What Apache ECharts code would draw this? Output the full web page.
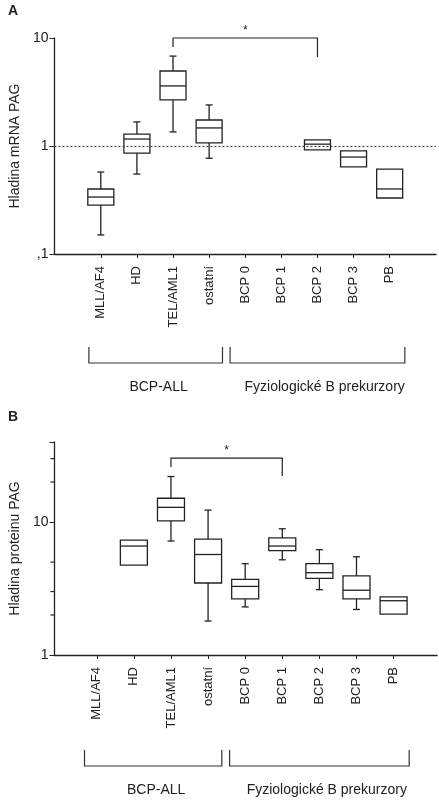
<!DOCTYPE html>
<html><head><meta charset="utf-8">
<script src="https://cdn.jsdelivr.net/npm/echarts@6/dist/echarts.min.js"></script>
<style>html,body{margin:0;padding:0;background:#fff}#c{width:439px;height:800px}</style>
</head><body><div id="c"></div>
<script>
const categories = ['MLL/AF4','HD','TEL/AML1','ostatní','BCP 0','BCP 1','BCP 2','BCP 3','PB'];
// [low, q1, median, q3, high]; null = not drawn
const boxesA = [
  [0.15,0.284,0.337,0.40,0.574],
  [0.55,0.86,1.16,1.29,1.67],
  [1.35,2.67,3.6,4.95,6.8],
  [0.77,1.07,1.47,1.74,2.4],
  null,
  null,
  [null,0.92,1.04,1.14,null],
  [null,0.64,0.79,0.9,null],
  [null,0.33,0.40,0.61,null]
];
const boxesB = [
  null,
  [null,4.75,6.6,7.3,null],
  [7.2,10.2,12.9,15.1,22],
  [1.8,3.48,5.7,7.45,12.3],
  [2.3,2.64,3.28,3.7,4.86],
  [5.2,6.1,6.6,7.6,8.9],
  [3.1,3.77,4.16,4.86,6.2],
  [2.2,2.64,3.07,3.93,5.48],
  [null,2.03,2.56,2.74,null]
];
// significance: [catFrom, catTo, top, leftLegEnd, rightLegEnd]
const sigA = [2, 6, 10, 8.26, 6.66];
const sigB = [2, 5, 30.3, 25.9, 22.2];
const groupNames = ['BCP-ALL','Fyziologické B prekurzory'];
const groupRanges = [[-0.33,3.37],[3.58,8.42]];
const groupLabelX = [1.6,6.2];
const minorTicksB = [2,3,5,20,30];
const refLineA = 1;

const FONT = 'Liberation Sans, Arial, sans-serif';
function boxRender(boxes, bw){
  return function(params, api){
    const i = params.dataIndex, b = boxes[i];
    if(!b) return;
    const x = api.coord([i, 1])[0];
    const Y = v => api.coord([i, v])[1];
    const st = {stroke:'#222', fill:'#fff', lineWidth:1.3};
    const ch = [];
    const h = bw/2, cap = 3.5;
    if(b[4]!=null){ ch.push({type:'line',shape:{x1:x,y1:Y(b[3]),x2:x,y2:Y(b[4])},style:st});
      ch.push({type:'line',shape:{x1:x-cap,y1:Y(b[4]),x2:x+cap,y2:Y(b[4])},style:st}); }
    if(b[0]!=null){ ch.push({type:'line',shape:{x1:x,y1:Y(b[1]),x2:x,y2:Y(b[0])},style:st});
      ch.push({type:'line',shape:{x1:x-cap,y1:Y(b[0]),x2:x+cap,y2:Y(b[0])},style:st}); }
    ch.push({type:'rect',shape:{x:x-h,y:Y(b[3]),width:bw,height:Y(b[1])-Y(b[3])},style:st});
    ch.push({type:'line',shape:{x1:x-h,y1:Y(b[2]),x2:x+h,y2:Y(b[2])},style:st});
    return {type:'group',children:ch};
  };
}
function sigRender(s){
  return function(params, api){
    const p1 = api.coord([s[0], s[2]]), p2 = api.coord([s[1], s[2]]);
    const l = api.coord([s[0], s[3]])[1], r = api.coord([s[1], s[4]])[1];
    const st = {stroke:'#222', lineWidth:1.2, fill:null};
    return {type:'group',children:[
      {type:'polyline',shape:{points:[[p1[0],l],[p1[0],p1[1]],[p2[0],p2[1]],[p2[0],r]]},style:st},
      {type:'text',x:(p1[0]+p2[0])/2,y:p1[1]-1,style:{text:'*',font:'12px '+FONT,fill:'#222',align:'center',verticalAlign:'bottom'}}
    ]};
  };
}
function groupRender(off1, off2, offT){
  return function(params, api){
    const cs = params.coordSys, yb = cs.y + cs.height;
    const i = params.dataIndex, g = groupRanges[i];
    const x1 = api.coord([g[0],1])[0], x2 = api.coord([g[1],1])[0];
    const xt = api.coord([groupLabelX[i],1])[0];
    return {type:'group',children:[
      {type:'polyline',shape:{points:[[x1,yb+off1],[x1,yb+off2],[x2,yb+off2],[x2,yb+off1]]},style:{stroke:'#333',lineWidth:1.2,fill:null}},
      {type:'text',x:xt,y:yb+offT,style:{text:groupNames[i],font:'14px '+FONT,fill:'#222',align:'center',verticalAlign:'middle'}}
    ]};
  };
}
function minorRender(params, api){
  const v = minorTicksB[params.dataIndex];
  const cs = params.coordSys, y = api.coord([0, v])[1];
  return {type:'line',shape:{x1:cs.x-4,y1:y,x2:cs.x,y2:y},style:{stroke:'#222',lineWidth:1.2}};
}
const idx = categories.map((_,i)=>i);
function xAx(gi, min, max){
  return {type:'value', gridIndex:gi, min:min, max:max,
    axisLine:{onZero:false, lineStyle:{color:'#222',width:1.3}}, splitLine:{show:false},
    axisTick:{customValues:idx, length:4, lineStyle:{color:'#222'}},
    axisLabel:{customValues:idx, rotate:90, margin:12, fontSize:13, fontFamily:FONT, color:'#222',
      formatter:v=>categories[Math.round(v)]}};
}
function yAx(gi, min, max, name, gap, fmt){
  return {type:'log', gridIndex:gi, min:min, max:max, logBase:10, name:name, nameLocation:'middle', nameGap:gap,
    nameTextStyle:{fontSize:14, fontFamily:FONT, color:'#222'},
    axisLine:{show:true, onZero:false, lineStyle:{color:'#222',width:1.3}}, splitLine:{show:false},
    axisTick:{show:true, length:5, lineStyle:{color:'#222'}},
    axisLabel:{fontSize:14, fontFamily:FONT, color:'#222', margin:6, formatter:fmt}};
}
const chart = echarts.init(document.getElementById('c'));
chart.setOption({
  animation:false,
  grid:[{left:41,right:3,top:38,height:216},{left:49,right:2,top:442,height:213}],
  xAxis:[xAx(0,-1.283,9.283), xAx(1,-1.14,9.17)],
  yAxis:[yAx(0,0.1,10,'Hladina mRNA PAG',24,v=>v<1?',1':String(v)),
         yAx(1,1,40,'Hladina proteinu PAG',30,v=>(v===1||v===10)?String(v):'')],
  graphic:[
    {type:'text',left:8,top:4,style:{text:'A',font:'bold 14px '+FONT,fill:'#222'}},
    {type:'text',left:8,top:410,style:{text:'B',font:'bold 14px '+FONT,fill:'#222'}}
  ],
  series:[
    {type:'custom',xAxisIndex:0,yAxisIndex:0,data:idx.map(i=>[i,1]),renderItem:boxRender(boxesA,26),
      markLine:{silent:true,symbol:'none',label:{show:false},lineStyle:{type:[2,2],color:'#444',width:1.2},data:[{yAxis:refLineA}]}},
    {type:'custom',xAxisIndex:0,yAxisIndex:0,data:[[sigA[0],sigA[2]]],renderItem:sigRender(sigA)},
    {type:'custom',xAxisIndex:0,yAxisIndex:0,data:[[0,1],[1,1]],clip:false,renderItem:groupRender(93,109,133)},
    {type:'custom',xAxisIndex:1,yAxisIndex:1,data:idx.map(i=>[i,1]),renderItem:boxRender(boxesB,27)},
    {type:'custom',xAxisIndex:1,yAxisIndex:1,data:[[sigB[0],sigB[2]]],renderItem:sigRender(sigB)},
    {type:'custom',xAxisIndex:1,yAxisIndex:1,data:[[0,1],[1,1]],clip:false,renderItem:groupRender(95,111,135)},
    {type:'custom',xAxisIndex:1,yAxisIndex:1,data:minorTicksB.map(v=>[0,v]),clip:false,renderItem:minorRender}
  ]
});
</script></body></html>
